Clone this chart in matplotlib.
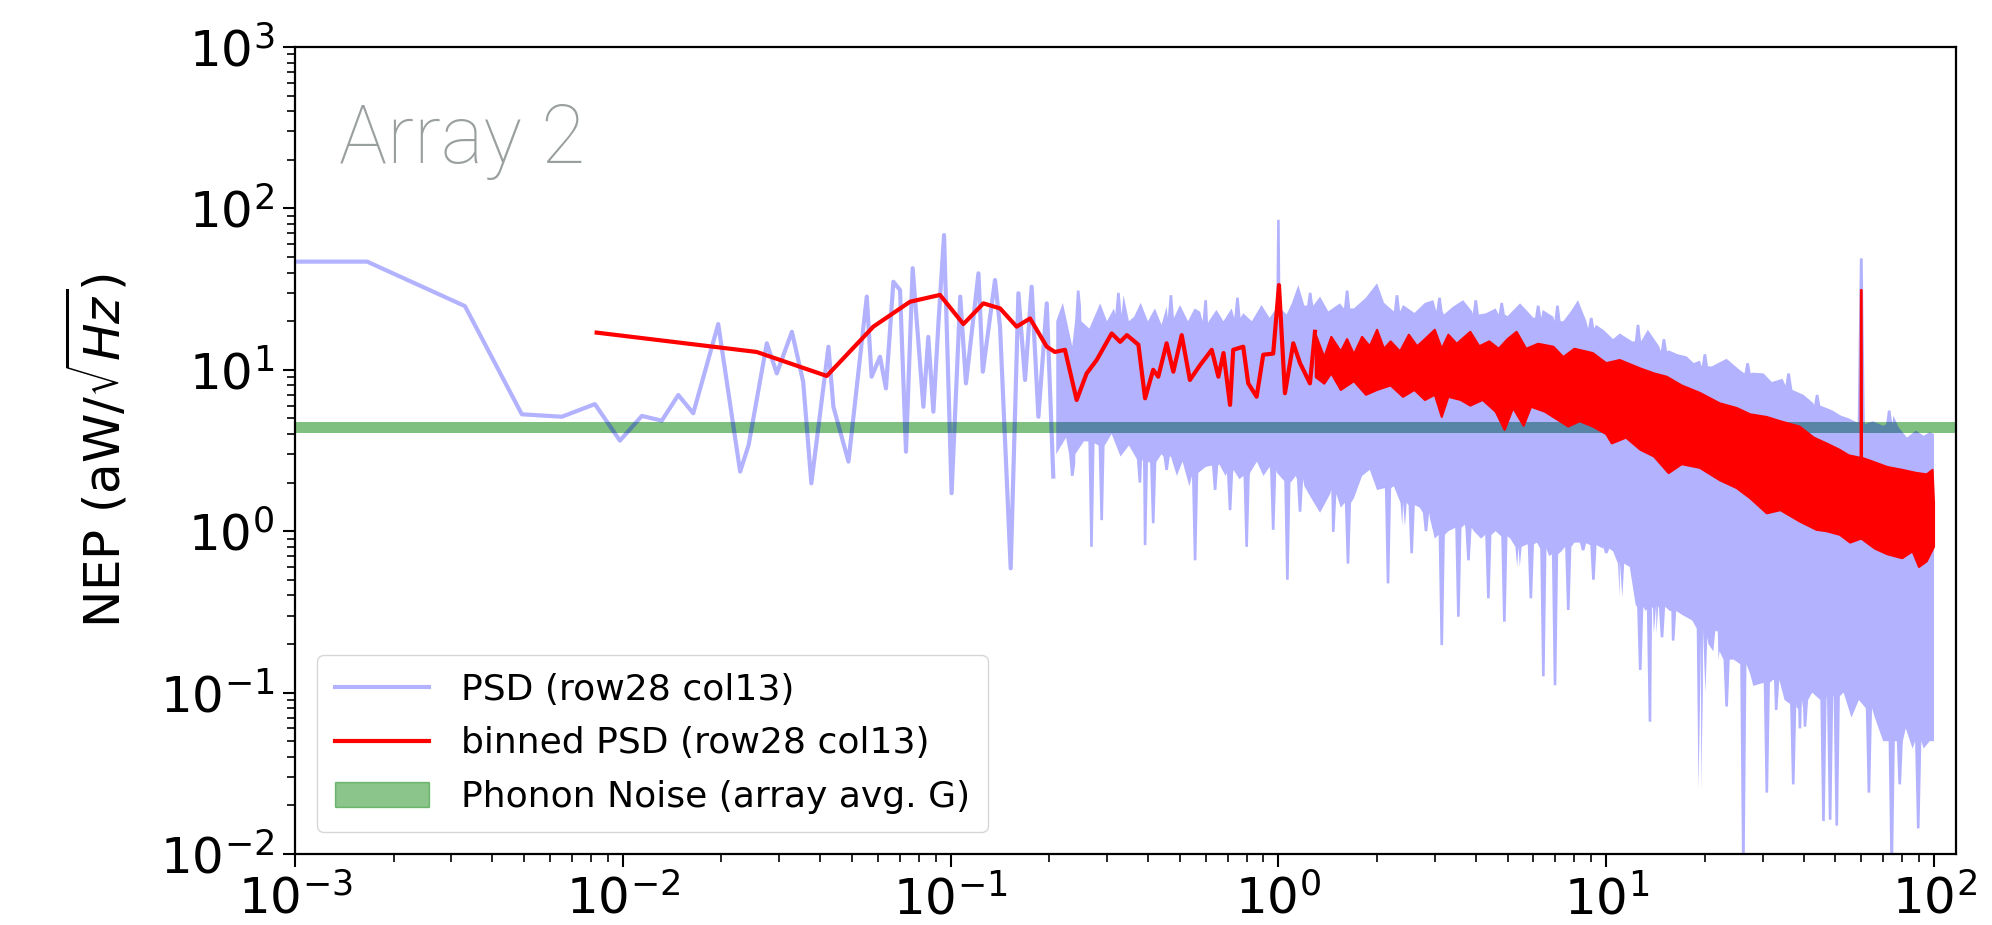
import matplotlib
matplotlib.use("Agg")
import matplotlib.pyplot as plt
from matplotlib.lines import Line2D
from matplotlib.patches import Patch

# ---------------- data ----------------
# raw PSD, sparse low-frequency part (Hz, aW/sqrt(Hz))
psd_lo_f = [1.0e-3, 1.66e-3, 3.30e-3, 4.92e-3, 6.52e-3, 8.22e-3, 9.80e-3, 0.01143, 0.01315,
            0.01477, 0.0164, 0.01955, 0.0228, 0.0242, 0.0275, 0.0295, 0.0328, 0.0355, 0.0376,
            0.0424, 0.0439, 0.0488, 0.0555, 0.0574, 0.0609, 0.0635, 0.0669, 0.0701, 0.0731,
            0.0766, 0.0826, 0.0855, 0.0886, 0.0918, 0.0955, 0.1007, 0.107, 0.1114, 0.1216,
            0.1254, 0.1366, 0.1415, 0.1525, 0.161, 0.1687, 0.1767, 0.1853, 0.1965, 0.2057]
psd_lo_v = [46.8, 46.8, 24.8, 5.30, 5.12, 6.13, 3.64, 5.18, 4.84,
            6.98, 5.38, 19.2, 2.34, 3.42, 14.6, 9.5, 17.2, 8.43, 1.98,
            13.9, 5.9, 2.70, 28.4, 9.06, 12.05, 7.67, 35.1, 31.2, 3.11,
            42.6, 5.9, 16.0, 5.5, 19.4, 68.4, 1.72, 28.4, 8.24, 39.6,
            9.73, 36.0, 18.5, 0.589, 29.8, 8.65, 32.7, 5.12, 25.8, 2.18]

# raw PSD, dense part: upper envelope
psd_up_f = [0.21, 0.22, 0.235, 0.25, 0.265, 0.286, 0.30, 0.315, 0.337, 0.35, 0.363, 0.38, 0.40,
            0.42, 0.44, 0.456, 0.48, 0.501, 0.53, 0.555, 0.577, 0.61, 0.647, 0.68, 0.72, 0.781,
            0.83, 0.888, 0.94, 0.985, 0.991, 1.009, 1.015, 1.06, 1.1, 1.15, 1.2, 1.27, 1.34,
            1.42, 1.54, 1.7, 1.85, 2.0, 2.1, 2.25, 2.4, 2.6, 2.8, 2.97, 3.2, 3.4, 3.66, 3.9,
            4.3, 4.6, 5.0, 5.46, 6.0, 6.4, 6.9, 7.4, 7.8, 8.2, 8.7, 9.3, 9.8, 10.5, 11.0, 12.0,
            13.4, 14.5, 15.5, 16.5, 17.6, 18.5, 19.3, 21.0, 23.3, 25.5, 28.0, 30.2, 32.0, 34.5,
            37.0, 40.0, 42.9, 46.0, 49.0, 52.0, 55.0, 58.5, 59.4, 60.6, 61.5, 65.0, 70.0, 75.2,
            78.0, 82.7, 88.0, 93.0, 97.0, 100.0]
psd_up_v = [20, 26, 14, 24.6, 18, 25.8, 20, 24, 29, 20, 21.3, 26, 20,
            24, 19, 24.6, 21, 25.2, 20, 24, 22.9, 19.5, 23.5, 20, 24, 22.4,
            20, 25.2, 21, 24, 85, 85, 24, 22, 26, 33.5, 25, 27, 28.4,
            23, 25.8, 24, 28, 34.4, 26, 23, 25.2, 22.5, 26, 27, 22, 24.5, 27, 23,
            22.4, 24, 21.5, 25.8, 21, 23.5, 21.3, 20, 23, 27, 20, 19, 17.7, 15.5, 16.8, 15,
            17.7, 14, 13.2, 12.5, 12.1, 11, 11.4, 10.5, 11.7, 10, 9.6, 9.5, 8.4, 8.8,
            7.5, 7.0, 6.2, 5.9, 5.6, 5.2, 5.0, 4.7, 49, 49, 4.6, 4.8, 4.5, 5.2,
            4.4, 3.8, 4.2, 3.9, 4.1, 4.0]
# thin upward hairs on the raw PSD: (frequency, base level, tip level)
psd_hairs = [(0.245, 20, 31), (0.325, 22, 30), (0.47, 21, 29), (0.6, 20, 27), (0.75, 21, 28),
             (1.25, 25, 30), (1.62, 24, 31), (2.3, 23, 29), (3.1, 23, 28), (4.0, 22, 27),
             (4.8, 22, 26), (6.2, 21, 25), (7.1, 20, 25), (9.0, 18, 21), (12.5, 15, 19),
             (15.0, 13, 15.5), (20.0, 10.5, 12.5), (27.0, 9.5, 11), (36.0, 8, 9.5),
             (44.0, 6, 7), (73.0, 4.6, 5.6)]

# raw PSD, dense part: lower edge of the filled body
psd_dn_f = [0.21, 0.225, 0.24, 0.255, 0.275, 0.295, 0.31, 0.33, 0.35, 0.37, 0.40, 0.425, 0.44,
            0.47, 0.49, 0.51, 0.535, 0.57, 0.60, 0.66, 0.69, 0.73, 0.76, 0.82, 0.86, 0.90, 0.94,
            0.99, 1.03, 1.09, 1.13, 1.20, 1.26, 1.34, 1.45, 1.55, 1.70, 1.8, 1.9, 2.0, 2.25,
            2.4, 2.7, 2.9, 3.0, 3.3, 3.7, 3.95, 4.15, 4.6, 5.1, 5.4, 6.15, 6.7, 7.3, 8.0, 8.7,
            9.8, 10.5, 11.0, 11.8, 12.3, 13.2, 14.2, 15.8, 17.2, 18.3, 20.5, 22.0, 24.5, 27.5,
            28.1, 32.5, 35.0, 38.5, 42.5, 45.0, 53.0, 56.0, 59.0, 66.0, 70.0, 77.0, 82.0, 86.0,
            93.0, 97.0, 100.0]
psd_dn_v = [3.0, 3.8, 2.6, 3.6, 3.5, 3.4, 4.0, 2.9, 3.4, 2.8, 2.6, 2.7, 3.0,
            2.9, 2.2, 2.7, 1.9, 2.3, 2.5, 2.6, 2.2, 2.4, 2.1, 2.3, 2.7, 2.2, 2.5,
            2.3, 2.1, 2.0, 2.2, 1.9, 1.6, 1.3, 1.8, 1.4, 1.6, 2.2, 2.4, 1.8, 1.9,
            1.5, 1.4, 1.2, 0.9, 1.0, 1.1, 1.0, 0.9, 1.0, 0.9, 0.8, 0.85, 0.7, 0.75, 0.85, 0.84,
            0.8, 0.75, 0.65, 0.6, 0.35, 0.32, 0.35, 0.32, 0.3, 0.28, 0.2, 0.16, 0.16, 0.13,
            0.11, 0.12, 0.09, 0.08, 0.1, 0.09, 0.1, 0.07, 0.09, 0.07, 0.05, 0.05, 0.06, 0.045,
            0.045, 0.05, 0.05]
# deep downward dips of the raw PSD: (frequency, body level, dip level)
psd_dips = [(0.235, 3.0, 2.2), (0.269, 3.6, 0.80), (0.289, 3.4, 1.17), (0.378, 2.8, 2.0),
            (0.392, 2.7, 0.82), (0.415, 2.65, 1.12), (0.456, 2.9, 2.39), (0.557, 2.2, 0.66),
            (0.641, 2.55, 1.8), (0.712, 2.3, 1.35), (0.80, 2.2, 0.80), (0.964, 2.4, 1.02),
            (1.065, 2.05, 0.50), (1.164, 2.1, 1.32), (1.47, 1.7, 0.99), (1.63, 1.5, 0.63),
            (2.16, 1.85, 0.475), (2.41, 1.5, 1.07), (2.55, 1.45, 0.73), (2.82, 1.3, 1.0),
            (3.15, 0.95, 0.197), (3.54, 1.05, 0.295), (3.8, 1.05, 0.66), (4.37, 0.95, 0.384),
            (4.89, 0.93, 0.275), (5.4, 0.8, 0.6), (5.89, 0.83, 0.384), (6.43, 0.78, 0.126),
            (6.98, 0.72, 0.111), (7.66, 0.8, 0.325), (8.5, 0.85, 0.76), (9.14, 0.82, 0.50),
            (10.0, 0.78, 0.73), (11.1, 0.63, 0.39), (12.7, 0.34, 0.138), (13.6, 0.33, 0.066),
            (14.1, 0.34, 0.23), (14.8, 0.34, 0.22), (16.0, 0.32, 0.21), (19.3, 0.25, 0.025),
            (19.9, 0.22, 0.1), (21.7, 0.18, 0.24), (23.3, 0.16, 0.082), (26.2, 0.15, 0.008),
            (30.9, 0.115, 0.024), (33.0, 0.12, 0.078), (37.2, 0.085, 0.027), (39.0, 0.08, 0.06),
            (40.4, 0.09, 0.0615), (46.0, 0.09, 0.016), (48.2, 0.095, 0.0163), (50.5, 0.095, 0.015),
            (63.3, 0.08, 0.024), (74.3, 0.05, 0.008), (78.6, 0.05, 0.027), (89.5, 0.05, 0.0144)]

# binned PSD, sparse part
bin_lo_f = [8.32e-3, 0.0256, 0.0419, 0.0581, 0.0752, 0.0928, 0.1094, 0.1259, 0.1416, 0.159,
            0.1747, 0.1965, 0.208, 0.2233, 0.2424, 0.260, 0.279, 0.310, 0.329, 0.345, 0.374,
            0.392, 0.415, 0.430, 0.456, 0.478, 0.507, 0.537, 0.577, 0.626, 0.656, 0.680, 0.712,
            0.728, 0.781, 0.809, 0.858, 0.899, 0.964, 1.004, 1.047, 1.11, 1.164, 1.248, 1.293]
bin_lo_v = [17.0, 12.9, 9.16, 18.5, 26.4, 29.1, 19.2, 25.8, 24.0, 18.5,
            20.8, 13.9, 12.9, 13.3, 6.5, 9.5, 11.5, 16.8, 14.9, 16.4, 14.3,
            6.66, 10.0, 9.06, 14.6, 9.73, 16.4, 8.65, 10.7, 13.3, 9.06, 12.7, 6.06,
            13.3, 13.9, 8.24, 6.81, 12.4, 12.6, 33.5, 7.16, 14.6, 11.0, 8.24, 17.2]

# binned PSD, dense band: upper and lower envelope
bin_up_f = [1.3, 1.38, 1.45, 1.55, 1.62, 1.7, 1.8, 1.9, 2.0, 2.1, 2.2, 2.35, 2.5, 2.65, 2.8,
            3.0, 3.15, 3.3, 3.5, 3.85, 4.1, 4.4, 4.7, 5.0, 5.33, 5.7, 6.2, 6.9, 7.4, 8.0, 9.1,
            10.0, 11.0, 12.7, 14.0, 15.3, 17.0, 19.3, 22.2, 25.0, 27.5, 30.9, 34.0, 38.9, 43.0,
            47.0, 51.6, 55.0, 59.7, 59.85, 60.15, 60.3, 65.0, 72.0, 80.0, 88.0, 95.0, 99.0, 100.0]
bin_up_v = [16.5, 12, 16, 13, 15.5, 12.5, 16, 14, 17.7, 13.5, 15, 13, 16.5, 14, 15.5,
            17.7, 13.5, 16.5, 14.5, 17.2, 14, 15, 13.5, 15.5, 17.2, 13.5, 14.5, 13.9, 12, 13.5, 12.7,
            11, 11.5, 10.2, 9.5, 9.06, 8.0, 7.2, 6.2, 5.8, 5.3, 5.1, 4.8, 4.45, 3.8,
            3.5, 3.19, 2.95, 2.85, 31.2, 31.2, 2.85, 2.7, 2.5, 2.4, 2.3, 2.25, 2.4, 1.5]
bin_dn_f = [1.3, 1.38, 1.45, 1.55, 1.7, 1.85, 2.0, 2.2, 2.4, 2.6, 2.8, 3.0, 3.15, 3.3, 3.6,
            3.85, 4.2, 4.6, 4.9, 5.2, 5.6, 5.9, 6.5, 7.0, 7.66, 8.3, 9.1, 10.0, 10.4, 11.5, 12.7,
            14.0, 15.5, 17.0, 19.3, 22.2, 25.0, 27.5, 30.9, 34.0, 38.9, 43.8, 47.0, 51.6, 55.5,
            60.0, 66.0, 72.0, 80.0, 86.0, 90.0, 95.0, 100.0]
bin_dn_v = [9.0, 8.2, 9.5, 7.5, 8.5, 7.0, 7.5, 8.0, 6.8, 7.5, 6.5, 7.0, 5.1, 6.8, 6.5,
            6.0, 6.5, 5.5, 4.24, 5.8, 4.5, 5.9, 5.5, 5.0, 4.45, 4.8, 4.45, 4.0, 3.5, 3.8, 3.2,
            2.9, 2.29, 2.6, 2.47, 2.07, 1.85, 1.6, 1.29, 1.35, 1.15, 1.02, 1.0, 0.95, 0.85,
            0.9, 0.78, 0.72, 0.68, 0.75, 0.6, 0.65, 0.8]

# phonon noise band (array average G)
phonon_lo, phonon_hi = 4.05, 4.75

labels = ["PSD (row28 col13)", "binned PSD (row28 col13)", "Phonon Noise (array avg. G)"]


def with_spikes(fs, vs, spikes, half_top=10 ** 0.0095, half_tip=10 ** 0.004):
    """Merge an envelope with narrow spikes (spike width is a drawing style)."""
    pts = list(zip(fs, vs))
    for f, base, tip in spikes:
        pts += [(f / half_top, base), (f / half_tip, tip), (f * half_tip, tip), (f * half_top, base)]
    pts.sort(key=lambda p: p[0])
    return [p[0] for p in pts], [p[1] for p in pts]


# ---------------- plotting ----------------
W, H = 1992, 925
fig = plt.figure(figsize=(W / 100, H / 100), dpi=100)
ax = fig.add_axes([295 / W, 1 - 854 / H, (1956 - 295) / W, (854 - 47) / H])
ax.set_xscale("log")
ax.set_yscale("log")

ax.axhspan(phonon_lo, phonon_hi, color="green", alpha=0.5, lw=0, zorder=1)

blue_alpha = 0.3
ax.plot(psd_lo_f, psd_lo_v, color="blue", alpha=blue_alpha, lw=3.0, zorder=2)
uf, uv = with_spikes(psd_up_f, psd_up_v, psd_hairs)
df, dv = with_spikes(psd_dn_f, psd_dn_v, psd_dips)
ax.fill(uf + df[::-1], uv + dv[::-1], color="blue", alpha=blue_alpha, lw=0, zorder=2)

ax.plot(bin_lo_f, bin_lo_v, color="red", lw=3.0, zorder=3, solid_joinstyle="round")
ax.fill(list(bin_up_f) + list(bin_dn_f)[::-1], list(bin_up_v) + list(bin_dn_v)[::-1],
        facecolor="red", edgecolor="red", lw=1.5, zorder=3, joinstyle="round")

ax.set_xlim(1e-3, 116.7)
ax.set_ylim(1e-2, 1e3)

for s in ax.spines.values():
    s.set_linewidth(1.6)
ax.tick_params(which="major", length=9, width=1.5, labelsize=36, pad=6)
ax.tick_params(which="minor", length=5.5, width=1.2)

ax.set_ylabel(r"NEP (aW/$\sqrt{Hz}$)", fontsize=36, labelpad=22)

ax.text(339, H - 163, "Array 2", transform=None, fontsize=58, color="#9a9f9f",
        family="Roboto", fontweight="light", va="baseline", ha="left")

handles = [Line2D([], [], color="blue", alpha=blue_alpha, lw=3.0),
           Line2D([], [], color="red", lw=3.0),
           Patch(facecolor="green", alpha=0.45, edgecolor="green")]
ax.legend(handles, labels, loc="lower left", fontsize=26, handlelength=2.6,
          handletextpad=0.9, labelspacing=0.55, borderpad=0.5, borderaxespad=0.6)

fig.savefig("out.png", dpi=100)
